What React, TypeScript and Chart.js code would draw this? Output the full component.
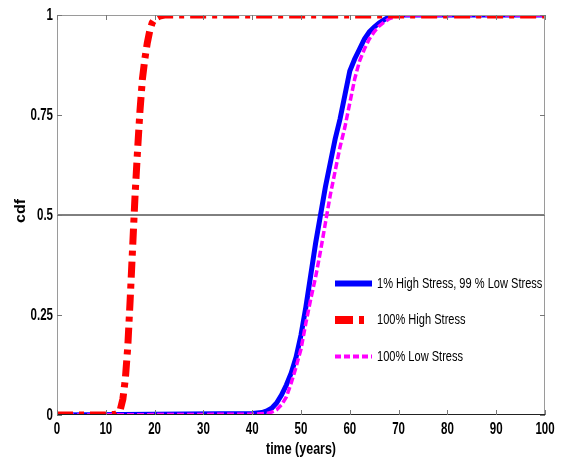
import React, { useEffect, useRef } from "react";
import { Chart, registerables } from "chart.js";

Chart.register(...registerables);

const xTicks = [0, 10, 20, 30, 40, 50, 60, 70, 80, 90, 100];
const xTickLabels = ["0", "10", "20", "30", "40", "50", "60", "70", "80", "90", "100"];
const yTicks = [0, 0.25, 0.5, 0.75, 1];
const yTickLabels = ["0", "0.25", "0.5", "0.75", "1"];

const xTitle = "time (years)";
const yTitle = "cdf";
const seriesNames = ["1% High Stress, 99 % Low Stress", "100% High Stress", "100% Low Stress"];

// 100% High Stress
const timeHigh = [0, 4, 8, 10, 12, 12.5, 13, 13.5, 14, 14.5, 15, 15.5, 16, 16.5, 17, 17.5, 18, 18.5, 19, 19.5, 20, 21, 22, 30, 50, 70, 100];
const cdfHigh = [0, 0, 0, 0, 0.002, 0.005, 0.015, 0.04, 0.09, 0.17, 0.29, 0.42, 0.55, 0.66, 0.76, 0.84, 0.89, 0.93, 0.96, 0.98, 0.99, 0.997, 1, 1, 1, 1, 1];

// 1% High Stress, 99 % Low Stress
const timeMix = [0, 20, 40, 42, 43, 44, 45, 46, 47, 48, 49, 50, 51, 52, 53, 54, 55, 56, 57, 58, 59, 60, 61, 62, 63, 64, 65, 66, 67, 68, 69, 80, 100];
const cdfMix = [0, 0.002, 0.004, 0.006, 0.01, 0.017, 0.03, 0.05, 0.075, 0.105, 0.145, 0.2, 0.27, 0.35, 0.43, 0.5, 0.57, 0.63, 0.69, 0.74, 0.8, 0.86, 0.89, 0.915, 0.94, 0.958, 0.97, 0.98, 0.988, 0.995, 1, 1, 1];

// 100% Low Stress
const timeLow = [0, 20, 40, 43, 44, 45, 46, 47, 48, 49, 50, 51, 52, 53, 54, 55, 56, 57, 58, 59, 60, 61, 62, 63, 64, 65, 66, 67, 68, 69, 70, 71, 80, 100];
const cdfLow = [0, 0.001, 0.002, 0.004, 0.007, 0.013, 0.025, 0.045, 0.08, 0.12, 0.165, 0.23, 0.29, 0.345, 0.41, 0.48, 0.55, 0.61, 0.67, 0.72, 0.78, 0.84, 0.885, 0.915, 0.94, 0.958, 0.972, 0.982, 0.99, 0.995, 0.998, 1, 1, 1];

const halfLineX = [0, 100];
const halfLineY = [0.5, 0.5];

const zip = (xs: number[], ys: number[]) => xs.map((x, i) => ({ x, y: ys[i] }));

const FONT = "'Liberation Sans', Arial, sans-serif";

function scaledText(ctx: any, text: string, x: number, y: number, align: string, sx: number, font: string) {
  ctx.save();
  ctx.font = font;
  ctx.textBaseline = "middle";
  ctx.textAlign = align;
  ctx.translate(x, y);
  ctx.scale(sx, 1);
  ctx.fillText(text, 0, 0);
  ctx.restore();
}

const decorPlugin = {
  id: "customDecor",
  afterDatasetsDraw(chart: any) {
    const { ctx, chartArea, scales } = chart;
    const { left, right, top, bottom } = chartArea;
    ctx.save();
    // box
    ctx.lineWidth = 1;
    ctx.strokeStyle = "#9a9a9a";
    ctx.beginPath();
    ctx.moveTo(left + 0.5, bottom);
    ctx.lineTo(left + 0.5, top + 0.5);
    ctx.lineTo(right - 0.5, top + 0.5);
    ctx.lineTo(right - 0.5, bottom);
    ctx.stroke();
    ctx.strokeStyle = "#222";
    ctx.beginPath();
    ctx.moveTo(left, bottom - 0.5);
    ctx.lineTo(right, bottom - 0.5);
    ctx.stroke();
    // inner ticks
    ctx.strokeStyle = "#777";
    ctx.beginPath();
    xTicks.forEach((v) => {
      const px = Math.round(scales.x.getPixelForValue(v)) + 0.5;
      ctx.moveTo(px, bottom);
      ctx.lineTo(px, bottom - 5);
      ctx.moveTo(px, top);
      ctx.lineTo(px, top + 5);
    });
    yTicks.forEach((v) => {
      const py = Math.round(scales.y.getPixelForValue(v)) + 0.5;
      ctx.moveTo(left, py);
      ctx.lineTo(left + 5, py);
      ctx.moveTo(right, py);
      ctx.lineTo(right - 5, py);
    });
    ctx.stroke();

    // tick labels
    ctx.fillStyle = "#000";
    const tickFont = `bold 16px ${FONT}`;
    xTicks.forEach((v, i) => {
      scaledText(ctx, xTickLabels[i], scales.x.getPixelForValue(v), bottom + 15, "center", 0.72, tickFont);
    });
    yTicks.forEach((v, i) => {
      scaledText(ctx, yTickLabels[i], left - 4, scales.y.getPixelForValue(v) + 1, "right", 0.72, tickFont);
    });

    // legend
    const items = [
      { color: "#0000ff", width: 6, dash: [] as number[] },
      { color: "#ff0000", width: 8, dash: [18, 6, 5, 8] },
      { color: "#ff00ff", width: 4, dash: [6, 3] },
    ];
    const lx0 = 335;
    const lx1 = 372;
    const rows = [283.5, 320, 356.5];
    items.forEach((it, i) => {
      ctx.save();
      ctx.strokeStyle = it.color;
      ctx.lineWidth = it.width;
      ctx.setLineDash(it.dash);
      ctx.lineCap = "butt";
      ctx.beginPath();
      ctx.moveTo(lx0, rows[i]);
      ctx.lineTo(lx1, rows[i]);
      ctx.stroke();
      ctx.restore();
      ctx.fillStyle = "#000";
      scaledText(ctx, seriesNames[i], 377, rows[i] + 0.5, "left", 0.79, `14px ${FONT}`);
    });

    // axis titles
    ctx.fillStyle = "#000";
    scaledText(ctx, xTitle, (left + right) / 2, 450, "center", 0.78, `bold 16px ${FONT}`);
    ctx.save();
    ctx.translate(21, 211);
    ctx.scale(0.9, 1);
    ctx.rotate(-Math.PI / 2);
    ctx.font = `bold 16px ${FONT}`;
    ctx.textAlign = "center";
    ctx.textBaseline = "middle";
    ctx.fillText(yTitle, 0, 0);
    ctx.restore();
    ctx.restore();
  },
};

export default function App() {
  const ref = useRef<HTMLCanvasElement>(null);
  useEffect(() => {
    if (!ref.current) return;
    const chart = new Chart(ref.current, {
      type: "line",
      data: {
        datasets: [
          {
            label: seriesNames[1],
            data: zip(timeHigh, cdfHigh),
            borderColor: "#ff0000",
            borderWidth: 7,
            borderDash: [16, 6, 5, 6],
            pointRadius: 0,
            tension: 0,
            fill: false,
            clip: 0,
          },
          {
            label: seriesNames[2],
            data: zip(timeLow, cdfLow),
            borderColor: "#ff00ff",
            borderWidth: 3.5,
            borderDash: [7, 3],
            pointRadius: 0,
            tension: 0,
            fill: false,
            clip: 0,
          },
          {
            label: seriesNames[0],
            data: zip(timeMix, cdfMix),
            borderColor: "#0000ff",
            borderWidth: 5,
            pointRadius: 0,
            tension: 0,
            fill: false,
            clip: 0,
          },
          {
            label: "half",
            data: zip(halfLineX, halfLineY),
            borderColor: "#000",
            borderWidth: 1,
            pointRadius: 0,
            fill: false,
          },
        ],
      },
      options: {
        responsive: false,
        animation: false,
        devicePixelRatio: 1,
        layout: { padding: { top: 15, right: 17, left: 0, bottom: 0 } },
        plugins: { legend: { display: false }, tooltip: { enabled: false } },
        scales: {
          x: {
            type: "linear",
            min: 0,
            max: 100,
            grid: { display: false, drawTicks: false },
            border: { display: false },
            afterBuildTicks: (s: any) => {
              s.ticks = xTicks.map((v) => ({ value: v }));
            },
            afterFit: (s: any) => {
              s.height = 47;
            },
            ticks: { display: false },
          },
          y: {
            type: "linear",
            min: 0,
            max: 1,
            grid: { display: false, drawTicks: false },
            border: { display: false },
            afterBuildTicks: (s: any) => {
              s.ticks = yTicks.map((v) => ({ value: v }));
            },
            afterFit: (s: any) => {
              s.width = 57;
            },
            ticks: { display: false },
          },
        },
      },
      plugins: [decorPlugin],
    } as any);
    return () => chart.destroy();
  }, []);
  return (
    <div style={{ position: "absolute", left: 0, top: 0, width: 562, height: 462, background: "#fff" }}>
      <canvas ref={ref} width={562} height={462} style={{ width: 562, height: 462 }} />
    </div>
  );
}
